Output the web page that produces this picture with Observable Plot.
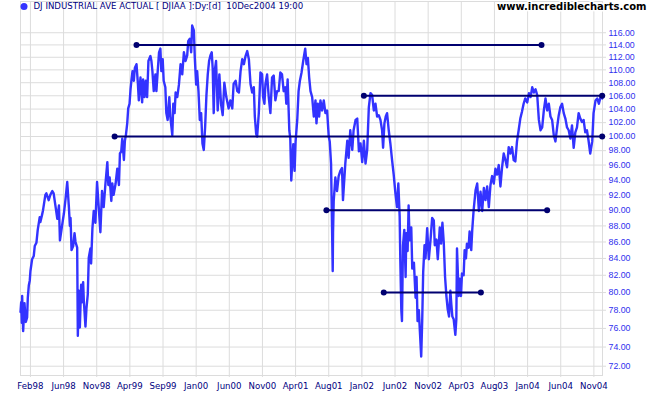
<!DOCTYPE html>
<html><head><meta charset="utf-8">
<script src="https://cdn.jsdelivr.net/npm/d3@7"></script>
<script src="https://cdn.jsdelivr.net/npm/@observablehq/plot@0.6"></script>
<style>body{margin:0;background:#fff}</style>
</head><body><div id="chart"></div>
<script>
// Bar number (trading day) and close (index / 100)
const djiaSeries = [[0,77.8],[2,78.9],[4,76.6],[5,79.6],[8,75.7],[12,78.8],[16,76.7],[20,77.2],[22,79.4],[25,80.8],[28,81.4],[30,82.5],[35,83.9],[40,84.3],[43,85.5],[48,85.9],[52,87.5],[58,89.1],[60,88.5],[65,89.4],[68,90.0],[75,92.0],[78,92.2],[85,91.3],[90,92.0],[96,92.5],[100,92.2],[106,90.4],[111,88.9],[116,90.6],[119,86.2],[126,88.2],[131,89.6],[136,91.5],[141,93.7],[146,90.4],[149,88.0],[151,89.0],[154,85.0],[159,85.5],[163,87.1],[166,86.0],[171,85.3],[173,75.2],[176,80.2],[179,76.1],[183,80.9],[186,78.9],[189,81.2],[191,79.1],[196,76.2],[199,78.2],[203,79.8],[206,84.1],[211,85.2],[213,83.4],[217,87.7],[221,89.9],[226,88.4],[231,93.7],[236,90.4],[241,87.2],[246,92.5],[251,90.4],[256,93.3],[262,96.4],[265,93.3],[269,94.3],[274,91.2],[277,93.5],[281,92.0],[287,93.5],[292,95.5],[297,93.3],[300,97.6],[304,97.9],[307,99.7],[312,96.7],[315,99.4],[318,100.2],[322,101.9],[325,104.1],[329,104.8],[332,107.0],[335,108.5],[338,109.8],[342,108.3],[345,110.3],[350,110.9],[354,108.0],[357,105.3],[362,108.8],[367,105.0],[370,108.5],[374,105.8],[378,108.3],[382,105.8],[386,111.4],[392,112.2],[395,111.4],[398,109.8],[402,106.7],[407,109.3],[410,106.7],[414,109.8],[418,112.8],[422,113.4],[425,109.8],[429,111.7],[432,108.3],[437,107.3],[440,103.4],[444,102.4],[449,105.8],[452,102.9],[458,100.2],[461,104.8],[465,103.4],[468,106.5],[473,105.8],[478,107.7],[483,110.9],[488,109.3],[493,112.8],[498,111.4],[503,112.3],[506,114.6],[511,115.0],[515,112.8],[518,117.2],[523,116.4],[526,111.8],[530,107.7],[533,109.8],[537,106.7],[541,102.4],[545,103.4],[549,99.0],[553,98.1],[557,101.3],[561,106.1],[565,109.3],[569,111.4],[573,112.3],[577,112.8],[580,110.1],[583,103.4],[586,109.8],[590,111.4],[595,103.8],[600,109.3],[605,104.8],[610,103.1],[615,108.0],[621,105.8],[628,104.1],[633,105.3],[639,104.1],[643,107.8],[649,108.3],[654,106.7],[659,106.5],[664,109.8],[669,111.7],[674,110.9],[679,112.2],[684,113.0],[689,111.7],[694,107.8],[699,106.5],[704,107.3],[707,102.9],[711,100.4],[714,100.0],[719,103.4],[724,109.6],[729,109.3],[732,105.8],[736,104.8],[739,107.8],[744,109.3],[749,105.8],[754,103.4],[759,108.8],[764,109.1],[769,105.3],[774,106.7],[779,106.7],[784,109.6],[789,109.3],[794,106.7],[799,107.3],[802,104.8],[806,108.5],[811,100.9],[814,99.7],[817,93.9],[823,98.9],[827,95.2],[830,99.3],[835,102.4],[839,106.7],[843,108.3],[848,109.6],[853,111.4],[859,113.4],[863,110.9],[867,111.9],[871,108.8],[875,106.7],[880,105.8],[885,102.9],[890,105.3],[893,101.9],[897,104.8],[901,102.9],[905,105.3],[910,103.8],[915,105.3],[920,103.4],[925,103.8],[930,100.0],[933,99.3],[937,96.2],[940,87.8],[942,82.5],[943,87.1],[945,91.2],[950,94.3],[955,92.5],[960,94.5],[965,95.2],[970,95.6],[973,91.3],[980,96.2],[986,99.4],[990,97.0],[995,100.9],[1001,98.1],[1005,100.9],[1011,102.4],[1016,102.6],[1021,97.9],[1026,99.0],[1031,96.4],[1036,99.4],[1041,96.2],[1046,98.1],[1051,104.3],[1056,106.4],[1061,106.1],[1066,103.8],[1071,104.8],[1076,102.9],[1081,103.1],[1086,102.4],[1091,100.9],[1094,98.4],[1098,101.9],[1102,102.9],[1106,103.4],[1111,100.9],[1116,99.0],[1121,96.7],[1126,94.7],[1131,92.3],[1136,90.4],[1140,93.5],[1144,89.2],[1146,83.7],[1149,78.0],[1151,76.8],[1154,85.6],[1158,87.5],[1162,81.8],[1164,87.1],[1168,84.9],[1171,90.6],[1174,86.2],[1179,87.8],[1182,82.8],[1187,83.5],[1192,79.4],[1195,81.8],[1198,76.8],[1202,78.0],[1205,75.7],[1209,73.0],[1212,76.8],[1215,82.4],[1219,85.6],[1222,84.0],[1227,87.7],[1232,83.9],[1237,86.2],[1242,89.0],[1247,88.7],[1250,85.6],[1255,86.3],[1259,83.9],[1265,87.8],[1269,85.8],[1273,88.4],[1277,86.0],[1281,81.8],[1285,79.6],[1289,78.1],[1293,77.3],[1297,80.2],[1300,78.6],[1303,77.3],[1307,77.0],[1312,75.3],[1315,77.0],[1317,85.2],[1322,79.6],[1325,81.6],[1329,79.6],[1332,82.2],[1337,82.0],[1340,85.0],[1344,84.0],[1347,85.8],[1352,85.3],[1355,87.3],[1360,85.0],[1363,87.5],[1367,89.9],[1373,92.6],[1378,93.5],[1383,89.9],[1388,92.4],[1393,89.9],[1398,92.9],[1403,91.3],[1408,93.1],[1413,90.4],[1418,93.3],[1423,94.5],[1428,93.5],[1433,95.5],[1438,94.7],[1443,96.0],[1448,93.1],[1453,95.7],[1458,97.6],[1463,96.7],[1468,95.7],[1473,98.5],[1478,97.6],[1483,98.5],[1488,96.7],[1493,96.5],[1498,99.3],[1503,100.9],[1508,102.6],[1513,103.6],[1518,104.8],[1523,105.6],[1529,105.0],[1534,106.4],[1539,105.8],[1544,107.3],[1549,106.5],[1554,107.0],[1559,106.1],[1564,102.4],[1569,100.9],[1574,101.3],[1579,103.8],[1584,105.6],[1589,103.8],[1594,104.8],[1599,102.9],[1604,102.4],[1609,100.2],[1614,99.3],[1619,101.3],[1624,103.1],[1629,104.3],[1634,104.8],[1639,103.4],[1644,102.6],[1649,101.3],[1654,100.9],[1659,99.7],[1664,101.6],[1669,98.4],[1674,100.6],[1679,101.3],[1684,103.4],[1689,102.6],[1694,102.1],[1699,102.4],[1704,100.6],[1709,100.9],[1714,99.4],[1719,97.6],[1725,99.3],[1729,103.4],[1735,105.3],[1740,105.6],[1745,104.8],[1750,105.8],[1755,105.6]];

// Support / resistance lines
const levelValues = [114, 100, 106, 90, 80];
const levelStart  = [350, 284, 1036, 923, 1096];
const levelEnd    = [1572, 1755, 1755, 1589, 1389];

// Axis ticks
const tickBars   = [30,130,230,330,430,530,630,730,830,930,1030,1130,1230,1330,1430,1530,1630,1730];
const tickLabels = ["Feb98","Jun98","Nov98","Apr99","Sep99","Jan00","Jun00","Nov00","Apr01","Aug01","Jan02","Jun02","Nov02","Apr03","Aug03","Jan04","Jun04","Nov04"];
const yTicks = [72,74,76,78,80,82,84,86,88,90,92,94,96,98,100,102,104,106,108,110,112,114,116];

const titleText = "DJ INDUSTRIAL AVE ACTUAL [ DJIAA ]:Dy:[d]  10Dec2004 19:00";
const siteText = "www.incrediblecharts.com";

const series = djiaSeries.map(([bar, close]) => ({bar, close}));
const levels = levelValues.map((v, i) => ({v, s: levelStart[i], e: levelEnd[i]}));
const ends = levels.flatMap(d => [{x: d.s, v: d.v}, {x: d.e, v: d.v}]);
const labelMap = new Map(tickBars.map((b, i) => [b, tickLabels[i]]));

const grid = "#dcdcdc";
const chart = Plot.plot({
  width: 651, height: 395,
  marginLeft: 20, marginRight: 49, marginTop: 1, marginBottom: 20,
  style: {background: "white", fontFamily: "DejaVu Sans", overflow: "visible"},
  x: {domain: [0, 1756], axis: null},
  y: {type: "log", domain: [71.05, 121.3], axis: null},
  marks: [
    Plot.gridX(tickBars, {stroke: grid, strokeOpacity: 1}),
    Plot.gridY(yTicks, {stroke: grid, strokeOpacity: 1}),
    Plot.frame({stroke: grid}),
    Plot.axisX(tickBars, {anchor: "bottom", tickSize: 2, tickPadding: 5, stroke: grid, fill: "#000080", fontSize: 8.6, fontFamily: "DejaVu Sans", tickFormat: d => labelMap.get(d), label: null}),
    Plot.axisY(yTicks, {anchor: "right", tickSize: 3, tickPadding: 3, stroke: grid, fill: "#3030ee", fontSize: 8.8, fontFamily: "Liberation Sans", tickFormat: d => d.toFixed(2), label: null}),
    Plot.line(series, {x: "bar", y: "close", stroke: "#3333ff", strokeWidth: 2.4}),
    Plot.ruleY(levels, {y: "v", x1: "s", x2: "e", stroke: "#000070", strokeWidth: 2}),
    Plot.dot(ends, {x: "x", y: "v", r: 3, fill: "#000070", stroke: "none"}),
    Plot.dot([0], {frameAnchor: "top-left", dx: 3.5, dy: 5, r: 3.5, fill: "#3333ff", stroke: "none"}),
    Plot.text([titleText], {text: d => d, frameAnchor: "top-left", dx: 13, dy: 1, lineAnchor: "top", textAnchor: "start", fill: "#000080", fontSize: 8.6, fontFamily: "DejaVu Sans"}),
    Plot.text([siteText], {text: d => d, frameAnchor: "top-right", dx: 44, dy: 1.5, lineAnchor: "top", textAnchor: "end", fill: "black", stroke: "white", strokeWidth: 3, fontWeight: "bold", fontSize: 10, fontFamily: "DejaVu Sans"})
  ]
});
document.getElementById("chart").append(chart);
</script></body></html>
